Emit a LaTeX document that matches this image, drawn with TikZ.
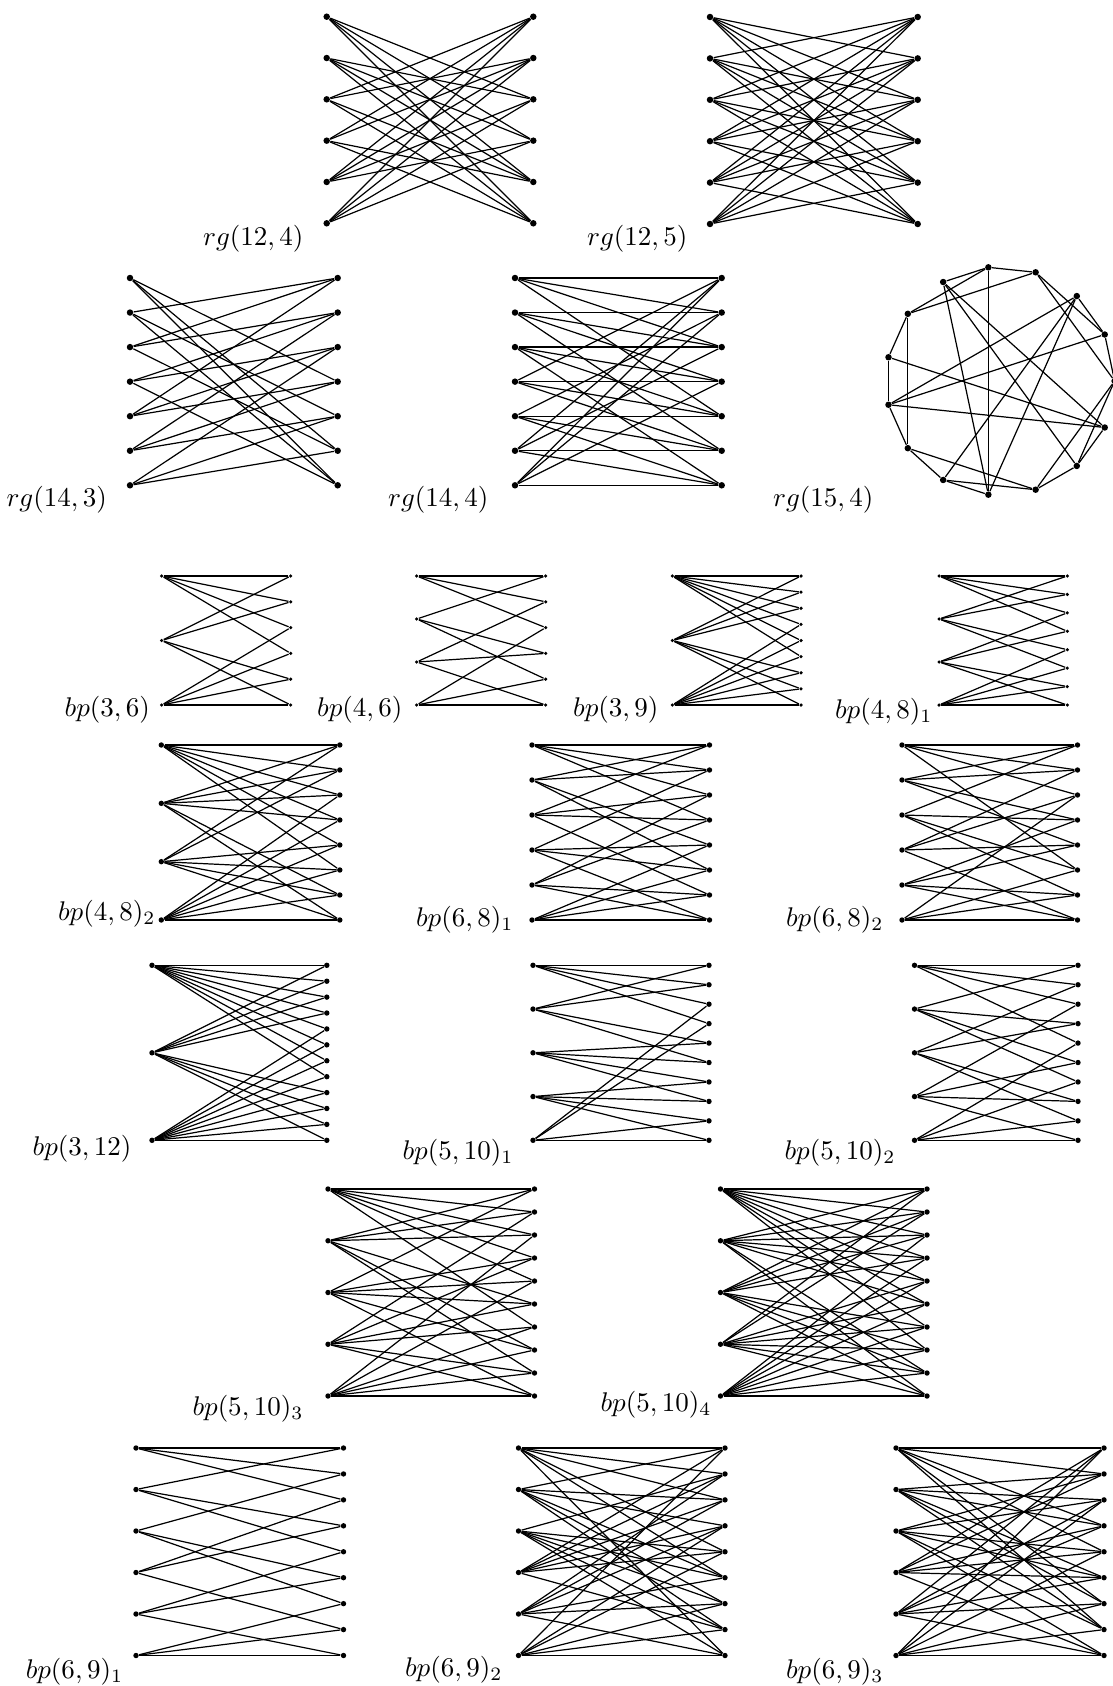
\documentclass[tikz,border=0pt]{standalone}
\tikzset{
 edge/.style={line width=0.45pt},
 rgdot/.style={circle,fill,inner sep=0pt,minimum size=2.4pt},
 sdot/.style={circle,fill,inner sep=0pt,minimum size=1.3pt},
 mdot/.style={circle,fill,inner sep=0pt,minimum size=2.0pt},
 lbl/.style={anchor=east,inner sep=0pt,font=\fontsize{10}{12}\selectfont},
}
\newcommand\gcol[6]{%
  \foreach \k in {1,...,#5}{%
    \pgfmathsetmacro\yy{#3+(#4-#3)*(\k-1)/(#5-1)}%
    \node[#6] (#1\k) at (#2,\yy) {};
  }}
\newcommand\gadj[3]{\foreach \b in {#3}{\draw[edge] (#1L#2) -- (#1R\b);}}
\begin{document}
\begin{tikzpicture}[x=0.37pt,y=-0.37pt]
\useasboundingbox (0,0) rectangle (1112,1686);

% rg(12,4)
\gcol{aL}{326.7}{16.7}{223.3}{6}{rgdot}
\gcol{aR}{533.3}{16.7}{223.3}{6}{rgdot}
\gadj{a}{1}{3,4,5,6}\gadj{a}{2}{3,4,5,6}\gadj{a}{3}{1,2,5,6}\gadj{a}{4}{1,2,5,6}\gadj{a}{5}{1,2,3,4}\gadj{a}{6}{1,2,3,4}
\node[lbl] (la) at (304,238.7) {$rg(12,4)$};

% rg(12,5)
\gcol{bL}{710}{17}{224}{6}{rgdot}
\gcol{bR}{917.7}{17}{224}{6}{rgdot}
\gadj{b}{1}{2,3,4,5,6}\gadj{b}{2}{1,3,4,5,6}\gadj{b}{3}{1,2,4,5,6}\gadj{b}{4}{1,2,3,5,6}\gadj{b}{5}{1,2,3,4,6}\gadj{b}{6}{1,2,3,4,5}
\node[lbl] (lb) at (688,238.7) {$rg(12,5)$};

% rg(14,3)
\gcol{cL}{130}{278}{485.3}{7}{rgdot}
\gcol{cR}{337.7}{278}{485.3}{7}{rgdot}
\gadj{c}{1}{4,6,7}\gadj{c}{2}{1,5,7}\gadj{c}{3}{1,2,6}\gadj{c}{4}{2,3,7}\gadj{c}{5}{1,3,4}\gadj{c}{6}{2,4,5}\gadj{c}{7}{3,5,6}
\node[lbl] (lc) at (107.5,500) {$rg(14,3)$};

% rg(14,4)
\gcol{dL}{515}{278}{485.3}{7}{rgdot}
\gcol{dR}{721.7}{278}{485.3}{7}{rgdot}
\gadj{d}{1}{1,2,3,5}\gadj{d}{2}{2,3,4,6}\gadj{d}{3}{3,4,5,7}\gadj{d}{4}{1,4,5,6}\gadj{d}{5}{2,5,6,7}\gadj{d}{6}{1,3,6,7}\gadj{d}{7}{1,2,4,7}
\node[lbl] (ld) at (489,500) {$rg(14,4)$};

% rg(15,4)
\foreach \k in {0,...,14}{\node[rgdot] (o\k) at ({1000.3+114.3*cos(24*\k)},{381-114.3*sin(24*\k)}) {};}
\foreach \a/\b in {3/4,4/5,4/11,4/6,6/3,6/7,6/9,7/8,8/9,9/10,9/12,10/11,10/12,10/2,11/2,11/5,5/13,5/14,7/14,8/14,8/2,8/1,2/1,3/1,1/0,3/0,0/13,0/12,13/12,14/13}{\draw[edge] (o\a) -- (o\b);}
\node[lbl] (le) at (874,500) {$rg(15,4)$};

% bp(3,6)
\gcol{fL}{161.7}{576}{705}{3}{sdot}
\gcol{fR}{290.7}{576}{705}{6}{sdot}
\gadj{f}{1}{1,2,3,4}\gadj{f}{2}{1,2,5,6}\gadj{f}{3}{3,4,5,6}
\node[lbl] (lf) at (150.5,709.8) {$bp(3,6)$};

% bp(4,6)
\gcol{gL}{416.7}{576}{705}{4}{sdot}
\gcol{gR}{545.7}{576}{705}{6}{sdot}
\gadj{g}{1}{1,2,3}\gadj{g}{2}{1,4,5}\gadj{g}{3}{2,4,6}\gadj{g}{4}{3,5,6}
\node[lbl] (lg) at (403,709.8) {$bp(4,6)$};

% bp(3,9)
\gcol{hL}{672.3}{576}{705}{3}{sdot}
\gcol{hR}{801}{576}{705}{9}{sdot}
\gadj{h}{1}{1,2,3,4,5,6}\gadj{h}{2}{1,2,3,7,8,9}\gadj{h}{3}{4,5,6,7,8,9}
\node[lbl] (lh) at (659,709.8) {$bp(3,9)$};

% bp(4,8)_1
\gcol{iL}{939}{576}{705}{4}{sdot}
\gcol{iR}{1067.3}{576}{705}{8}{sdot}
\gadj{i}{1}{1,2,3,4}\gadj{i}{2}{1,2,5,6}\gadj{i}{3}{3,4,7,8}\gadj{i}{4}{5,6,7,8}
\node[lbl] (li) at (933,712) {$bp(4,8)_1$};

% bp(4,8)_2
\gcol{jL}{161.3}{745}{920}{4}{mdot}
\gcol{jR}{339.8}{745}{920}{8}{mdot}
\gadj{j}{1}{1,2,3,4,5,6}\gadj{j}{2}{1,2,3,4,7,8}\gadj{j}{3}{1,2,5,6,7,8}\gadj{j}{4}{3,4,5,6,7,8}
\node[lbl] (lj) at (156,914) {$bp(4,8)_2$};

% bp(6,8)_1
\gcol{kL}{532}{745}{920}{6}{mdot}
\gcol{kR}{709.5}{745}{920}{8}{mdot}
\gadj{k}{1}{1,2,3,4}\gadj{k}{2}{1,2,5,6}\gadj{k}{3}{1,3,4,7}\gadj{k}{4}{2,5,6,8}\gadj{k}{5}{3,4,7,8}\gadj{k}{6}{5,6,7,8}
\node[lbl] (lk) at (514,919.5) {$bp(6,8)_1$};

% bp(6,8)_2
\gcol{mL}{902}{745}{920}{6}{mdot}
\gcol{mR}{1077.5}{745}{920}{8}{mdot}
\gadj{m}{1}{1,2,3,6}\gadj{m}{2}{1,2,4,5}\gadj{m}{3}{1,4,6,7}\gadj{m}{4}{2,3,5,8}\gadj{m}{5}{4,5,7,8}\gadj{m}{6}{3,6,7,8}
\node[lbl] (lm) at (884,919.5) {$bp(6,8)_2$};

% bp(3,12)
\gcol{nL}{152}{965.3}{1140.3}{3}{mdot}
\gcol{nR}{326.8}{965.3}{1140.3}{12}{mdot}
\gadj{n}{1}{1,...,8}\gadj{n}{2}{1,2,3,4,9,10,11,12}\gadj{n}{3}{5,...,12}
\node[lbl] (ln) at (132,1148.5) {$bp(3,12)$};

% bp(5,10)_1
\gcol{pL}{533}{965.3}{1140.3}{5}{mdot}
\gcol{pR}{709}{965.3}{1140.3}{10}{mdot}
\gadj{p}{1}{1,2,3,4}\gadj{p}{2}{1,2,5,6}\gadj{p}{3}{5,6,7,8}\gadj{p}{4}{7,8,9,10}\gadj{p}{5}{3,4,9,10}
\node[lbl] (lp) at (514,1152.8) {$bp(5,10)_1$};

% bp(5,10)_2
\gcol{qL}{914.5}{965.3}{1140.3}{5}{mdot}
\gcol{qR}{1078}{965.3}{1140.3}{10}{mdot}
\gadj{q}{1}{1,2,3,5}\gadj{q}{2}{1,4,6,7}\gadj{q}{3}{2,4,8,9}\gadj{q}{4}{3,6,8,10}\gadj{q}{5}{5,7,9,10}
\node[lbl] (lq) at (896,1152.8) {$bp(5,10)_2$};

% bp(5,10)_3
\gcol{rL}{328}{1189}{1396}{5}{mdot}
\gcol{rR}{534.5}{1189}{1396}{10}{mdot}
\gadj{r}{1}{1,2,3,4,5,7}\gadj{r}{2}{1,2,3,6,8,9}\gadj{r}{3}{1,4,5,6,8,10}\gadj{r}{4}{2,4,6,7,9,10}\gadj{r}{5}{3,5,7,8,9,10}
\node[lbl] (lr) at (304,1409) {$bp(5,10)_3$};

% bp(5,10)_4
\gcol{sL}{720.5}{1189}{1396}{5}{mdot}
\gcol{sR}{927}{1189}{1396}{10}{mdot}
\gadj{s}{1}{1,...,8}\gadj{s}{2}{1,...,6,9,10}\gadj{s}{3}{1,2,3,4,7,8,9,10}\gadj{s}{4}{1,2,5,6,7,8,9,10}\gadj{s}{5}{3,...,10}
\node[lbl] (ls) at (712,1404.5) {$bp(5,10)_4$};

% bp(6,9)_1
\gcol{tL}{136}{1448}{1655.5}{6}{mdot}
\gcol{tR}{343.5}{1448}{1655.5}{9}{mdot}
\gadj{t}{1}{1,2,3}\gadj{t}{2}{1,4,5}\gadj{t}{3}{2,6,7}\gadj{t}{4}{3,4,8}\gadj{t}{5}{5,6,9}\gadj{t}{6}{7,8,9}
\node[lbl] (lt) at (123.7,1672) {$bp(6,9)_1$};

% bp(6,9)_2
\gcol{uL}{518.5}{1448}{1655.5}{6}{mdot}
\gcol{uR}{725}{1448}{1655.5}{9}{mdot}
\gadj{u}{1}{1,2,3,5,6,9}\gadj{u}{2}{1,3,4,6,7,8}\gadj{u}{3}{2,5,6,7,8,9}\gadj{u}{4}{1,2,3,4,5,8}\gadj{u}{5}{2,3,4,6,7,9}\gadj{u}{6}{1,4,5,7,8,9}
\node[lbl] (lu) at (503,1670) {$bp(6,9)_2$};

% bp(6,9)_3
\gcol{vL}{896}{1448}{1655.5}{6}{mdot}
\gcol{vR}{1104}{1448}{1655.5}{9}{mdot}
\gadj{v}{1}{1,2,4,5,7,8}\gadj{v}{2}{2,3,4,6,7,8}\gadj{v}{3}{2,3,5,6,8,9}\gadj{v}{4}{1,2,4,5,6,9}\gadj{v}{5}{1,3,4,6,7,9}\gadj{v}{6}{1,3,5,7,8,9}
\node[lbl] (lv) at (884,1672) {$bp(6,9)_3$};
\end{tikzpicture}
\end{document}
